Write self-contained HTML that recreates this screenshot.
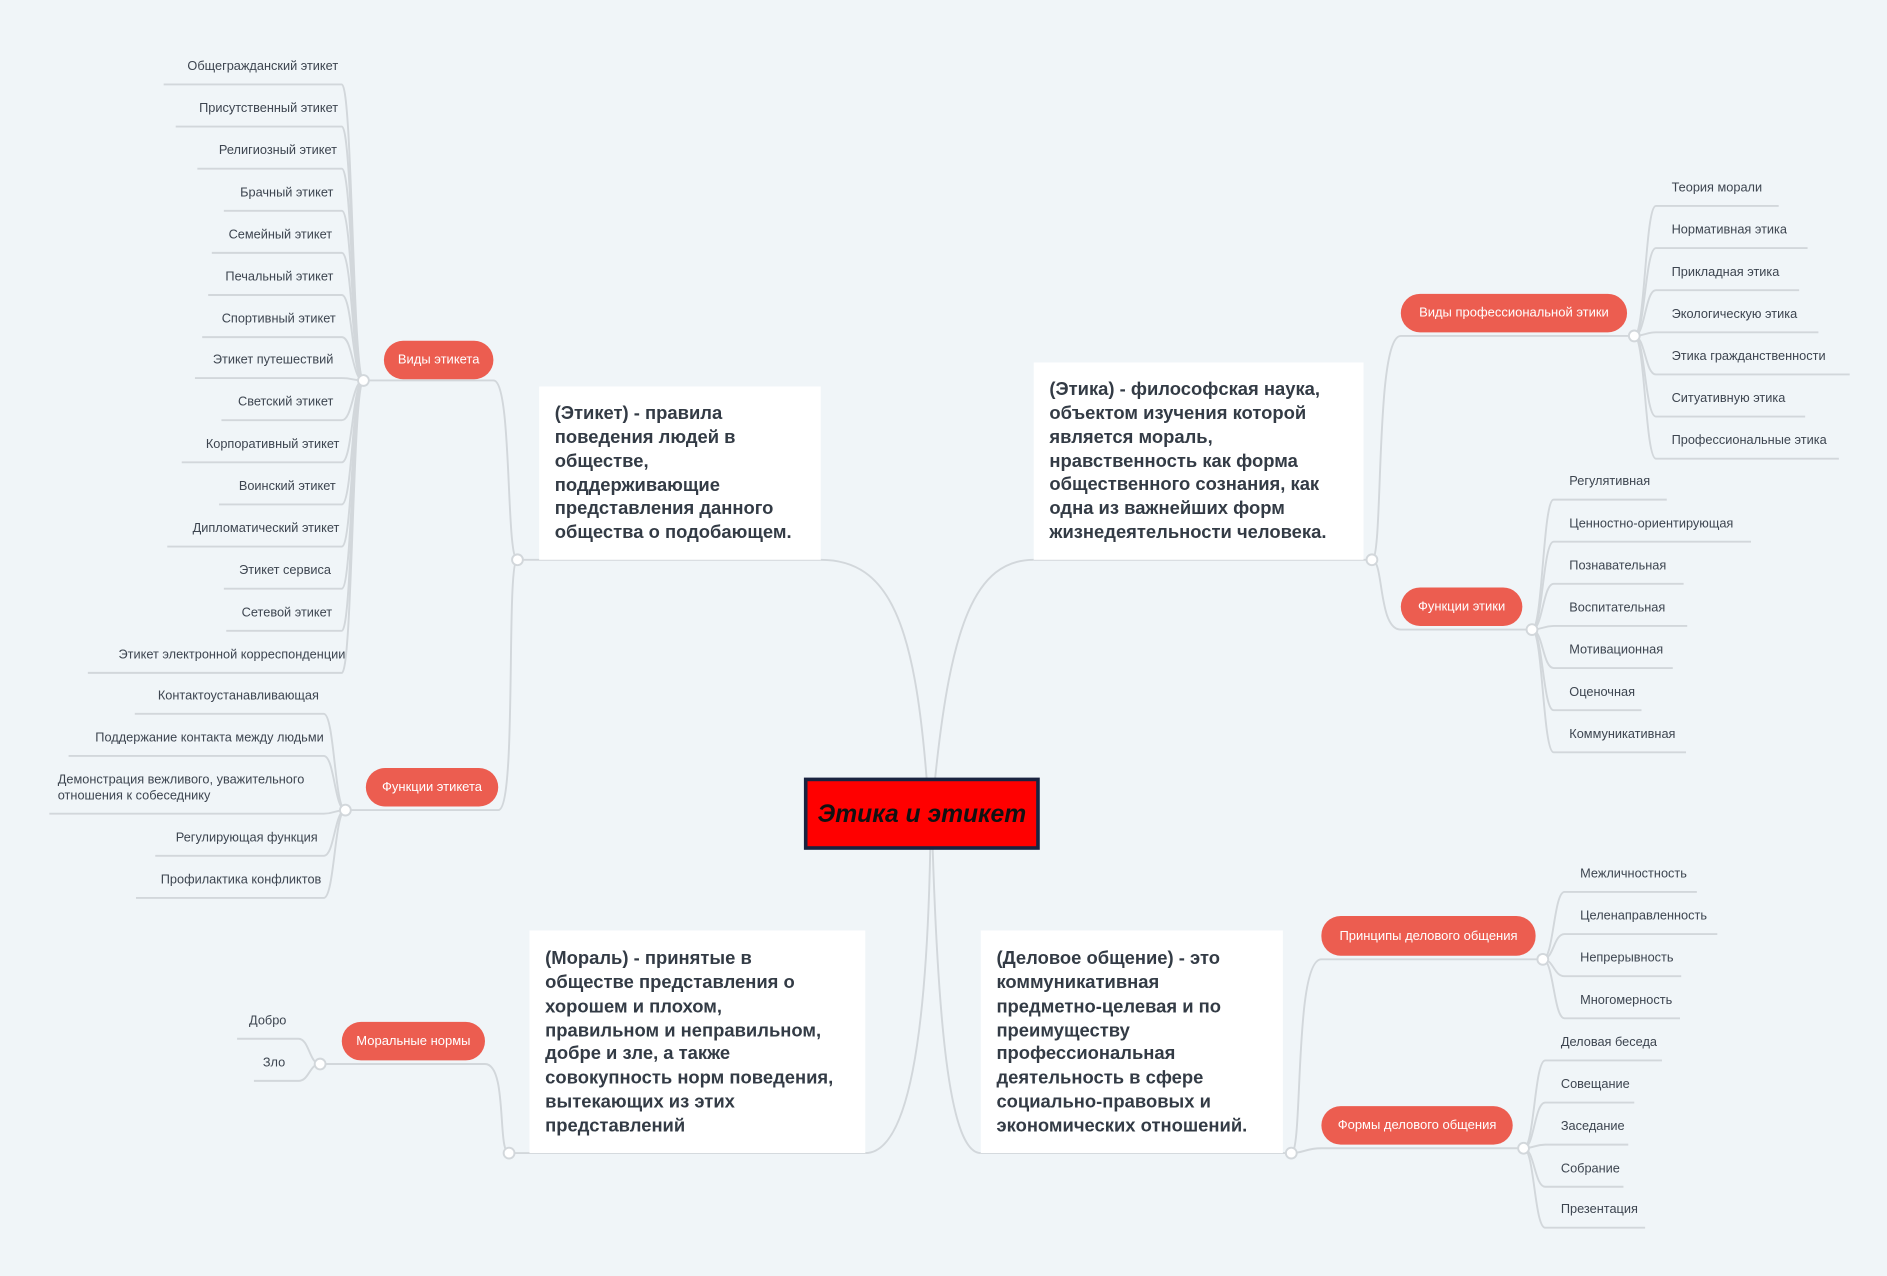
<!DOCTYPE html>
<html><head><meta charset="utf-8"><style>
html,body{margin:0;padding:0;background:#f0f5f8;}
svg{display:block}
text{font-family:"Liberation Sans","DejaVu Sans",sans-serif;}
.l{fill:#3d4550;font-size:10.6px}
.b{fill:#333b45;font-size:15.3px;font-weight:bold}
.p{fill:#fff;font-size:10.8px}
.ln{stroke:#d2d7db;stroke-width:1.6;fill:none}
.c{fill:#fff;stroke:#d2d7db;stroke-width:1.6}
.pl{fill:#ec5d50}
</style></head><body>
<svg width="1887" height="1276" viewBox="0 0 1568 1060" xmlns="http://www.w3.org/2000/svg">
<rect width="1568" height="1060" fill="#f0f5f8"/>
<g class="ln">
<path d="M770 647 C760 520 740 465 682 465"/>
<path d="M777 647 C790 520 810 465 859 465"/>
<path d="M773 705 C770 860 755 958 719 958"/>
<path d="M775 705 C780 860 790 958 815 958"/>
<path d="M682 465 L430 465"/><path d="M859 465 L1140 465"/>
<path d="M719 958 L423 958"/><path d="M815 958 L1073 958"/>
<path d="M430 465 C420 465 426 316 410 316 L302 316"/>
<path d="M430 465 C420 465 430 673 414 673 L287 673"/>
<path d="M1140 465 C1150 465 1142 279 1164 279 L1358 279"/>
<path d="M1140 465 C1150 465 1145 523 1164 523 L1273 523"/>
<path d="M423 958 C413 958 422 884 403 884 L266 884"/>
<path d="M1073 958 C1083 958 1075 797 1098 797 L1282 797"/>
<path d="M1073 958 C1083 958 1085 954 1098 954 L1266 954"/>
</g>
<rect x="448" y="321" width="234" height="144" fill="#fff"/>
<rect x="859" y="301" width="274" height="164" fill="#fff"/>
<rect x="440" y="773" width="279" height="185" fill="#fff"/>
<rect x="815" y="773" width="251" height="185" fill="#fff"/>
<g class="b">
<text x="461" y="348">(Этикет) - правила</text><text x="461" y="368">поведения людей в</text><text x="461" y="388">обществе,</text><text x="461" y="408">поддерживающие</text><text x="461" y="427">представления данного</text><text x="461" y="447">общества о подобающем.</text>
<text x="872" y="328">(Этика) - философская наука,</text><text x="872" y="348">объектом изучения которой</text><text x="872" y="368">является мораль,</text><text x="872" y="388">нравственность как форма</text><text x="872" y="407">общественного сознания, как</text><text x="872" y="427">одна из важнейших форм</text><text x="872" y="447">жизнедеятельности человека.</text>
<text x="453" y="801">(Мораль) - принятые в</text><text x="453" y="821">обществе представления о</text><text x="453" y="841">хорошем и плохом,</text><text x="453" y="861">правильном и неправильном,</text><text x="453" y="880">добре и зле, а также</text><text x="453" y="900">совокупность норм поведения,</text><text x="453" y="920">вытекающих из этих</text><text x="453" y="940">представлений</text>
<text x="828" y="801">(Деловое общение) - это</text><text x="828" y="821">коммуникативная</text><text x="828" y="841">предметно-целевая и по</text><text x="828" y="861">преимуществу</text><text x="828" y="880">профессиональная</text><text x="828" y="900">деятельность в сфере</text><text x="828" y="920">социально-правовых и</text><text x="828" y="940">экономических отношений.</text>
</g>
<rect x="669.5" y="647.5" width="193" height="57" fill="#ff0000" stroke="#1a2340" stroke-width="3"/>
<text x="766" y="683" text-anchor="middle" style="font-size:20.5px;font-weight:bold;font-style:italic;fill:#111">Этика и этикет</text>
<g>
<rect class="pl" x="319" y="283" width="91" height="32" rx="16"/><text class="p" x="364.5" y="302" text-anchor="middle">Виды этикета</text>
<rect class="pl" x="304" y="638" width="110" height="32" rx="16"/><text class="p" x="359" y="657" text-anchor="middle">Функции этикета</text>
<rect class="pl" x="1164" y="244" width="188" height="32" rx="16"/><text class="p" x="1258" y="263" text-anchor="middle">Виды профессиональной этики</text>
<rect class="pl" x="1164" y="488" width="101" height="32" rx="16"/><text class="p" x="1214.5" y="507" text-anchor="middle">Функции этики</text>
<rect class="pl" x="284" y="849" width="119" height="32" rx="16"/><text class="p" x="343.5" y="868" text-anchor="middle">Моральные нормы</text>
<rect class="pl" x="1098" y="761" width="178" height="33" rx="16"/><text class="p" x="1187" y="781" text-anchor="middle">Принципы делового общения</text>
<rect class="pl" x="1098" y="919" width="159" height="32" rx="16"/><text class="p" x="1177.5" y="938" text-anchor="middle">Формы делового общения</text>
</g>
<g id="leaves"></g>
<g id="circles"></g>
<script>
var NS="http://www.w3.org/2000/svg",L=document.getElementById('leaves'),C=document.getElementById('circles');
function el(t,a,p){var e=document.createElementNS(NS,t);for(var k in a)e.setAttribute(k,a[k]);(p||L).appendChild(e);return e;}
function grp(cx,cy,side,items){
 items.forEach(function(it){
  var s=it[0],e=it[1],y=it[2],uy=it[4]||y+16;
  var dx= side<0? -9:9;
  el('path',{class:'ln',d:'M'+cx+' '+cy+' C'+(cx+dx)+' '+cy+' '+(cx+dx)+' '+uy+' '+(cx+dx*2)+' '+uy+' L'+(side<0?s-7:e+8)+' '+uy});
  var lines=it[3].split('|');
  lines.forEach(function(t,i){var multi=lines.length>1;var tx=el('text',{class:'l',x:(side<0&&!multi)?e:s,y:y+4+i*13,'text-anchor':(side<0&&!multi)?'end':'start'});tx.textContent=t;});
 });
 el('circle',{class:'c',cx:cx,cy:cy,r:4.5},C);
}
grp(302,316,-1,[[143,281,54,'Общегражданский этикет'],[153,281,89,'Присутственный этикет'],[171,280,124,'Религиозный этикет'],[193,277,159,'Брачный этикет'],[183,276,194,'Семейный этикет'],[180,277,229,'Печальный этикет'],[175,279,264,'Спортивный этикет'],[169,277,298,'Этикет путешествий'],[191,277,333,'Светский этикет'],[158,282,368,'Корпоративный этикет'],[189,279,403,'Воинский этикет'],[146,282,438,'Дипломатический этикет'],[193,275,473,'Этикет сервиса'],[195,276,508,'Сетевой этикет'],[80,287,543,'Этикет электронной корреспонденции']]);
grp(287,673,-1,[[119,265,577,'Контактоустанавливающая'],[64,269,612,'Поддержание контакта между людьми'],[48,271,647,'Демонстрация вежливого, уважительного|отношения к собеседнику',676],[136,264,695,'Регулирующая функция'],[120,267,730,'Профилактика конфликтов']]);
grp(266,884,-1,[[204,238,847,'Добро'],[218,237,882,'Зло']]);
grp(1358,279,1,[[1389,1470,155,'Теория морали'],[1389,1494,190,'Нормативная этика'],[1389,1487,225,'Прикладная этика'],[1389,1503,260,'Экологическую этика'],[1389,1529,295,'Этика гражданственности'],[1389,1492,330,'Ситуативную этика'],[1389,1520,365,'Профессиональные этика']]);
grp(1273,523,1,[[1304,1377,399,'Регулятивная'],[1304,1447,434,'Ценностно-ориентирующая'],[1304,1391,469,'Познавательная'],[1304,1394,504,'Воспитательная'],[1304,1382,539,'Мотивационная'],[1304,1356,574,'Оценочная'],[1304,1393,609,'Коммуникативная']]);
grp(1282,797,1,[[1313,1402,725,'Межличностность'],[1313,1419,760,'Целенаправленность'],[1313,1389,795,'Непрерывность'],[1313,1388,830,'Многомерность']]);
grp(1266,954,1,[[1297,1373,865,'Деловая беседа'],[1297,1350,900,'Совещание'],[1297,1345,935,'Заседание'],[1297,1341,970,'Собрание'],[1297,1359,1004,'Презентация']]);
[[430,465],[1140,465],[423,958],[1073,958]].forEach(function(p){el('circle',{class:'c',cx:p[0],cy:p[1],r:4.5},C);});
</script>
</svg>
</body></html>
